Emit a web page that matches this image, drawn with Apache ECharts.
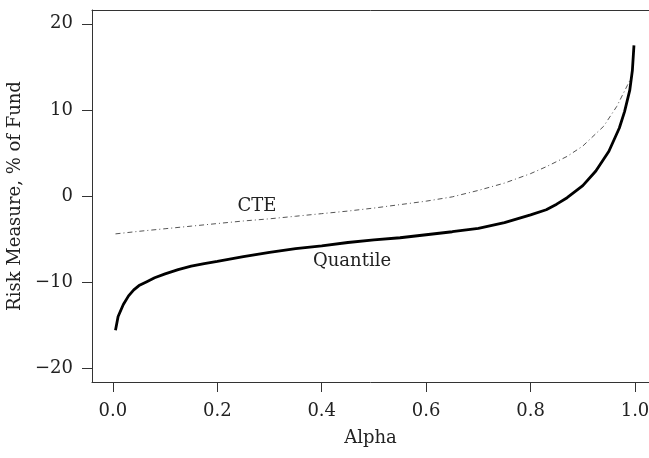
<!DOCTYPE html>
<html>
<head>
<meta charset="utf-8">
<script src="https://cdn.jsdelivr.net/npm/echarts@6/dist/echarts.min.js"></script>
<style>html,body{margin:0;padding:0;background:#fff}#c{width:649px;height:458px}</style>
</head>
<body>
<div id="c"></div>
<script>
var xTicks = [0, 0.2, 0.4, 0.6, 0.8, 1.0];
var yTicks = [-20, -10, 0, 10, 20];

var quantileAlpha = [0.005, 0.01, 0.02, 0.03, 0.04, 0.05, 0.065, 0.08, 0.1, 0.125, 0.15, 0.175, 0.2, 0.25, 0.3, 0.35, 0.4, 0.45, 0.5, 0.55, 0.6, 0.65, 0.7, 0.75, 0.8, 0.83, 0.85, 0.87, 0.9, 0.925, 0.95, 0.97, 0.98, 0.99, 0.995, 0.998];
var quantileValue = [-15.6, -14.0, -12.6, -11.6, -10.9, -10.4, -9.95, -9.5, -9.05, -8.55, -8.15, -7.85, -7.6, -7.05, -6.55, -6.1, -5.8, -5.4, -5.1, -4.85, -4.5, -4.15, -3.75, -3.1, -2.2, -1.6, -0.95, -0.2, 1.2, 2.9, 5.2, 7.9, 9.8, 12.3, 14.6, 17.5];

var cteAlpha = [0.005, 0.05, 0.1, 0.15, 0.2, 0.25, 0.3, 0.35, 0.4, 0.45, 0.5, 0.55, 0.6, 0.65, 0.7, 0.75, 0.8, 0.83, 0.87, 0.9, 0.94, 0.965, 0.985, 0.995];
var cteValue = [-4.4, -4.1, -3.8, -3.5, -3.2, -2.9, -2.65, -2.35, -2.05, -1.75, -1.4, -1.0, -0.6, -0.1, 0.65, 1.5, 2.6, 3.4, 4.6, 5.8, 8.1, 10.4, 12.8, 14.0];

var cteLabel = {text: 'CTE', alpha: 0.276, value: -1.24};
var quantileLabel = {text: 'Quantile', alpha: 0.458, value: -7.64};

function zip(a, b) { return a.map(function (x, i) { return [x, b[i]]; }); }

var FONT = 'DejaVu Serif';
var chart = echarts.init(document.getElementById('c'), null, {renderer: 'canvas'});
chart.setOption({
  animation: false,
  backgroundColor: '#fff',
  grid: {left: 92, top: 10, right: 0, bottom: 76, show: false, containLabel: false, outerBoundsMode: 'none'},
  xAxis: [{
    type: 'value', min: -0.04, max: 1.0268, position: 'bottom',
    name: 'Alpha', nameLocation: 'middle', nameGap: 47,
    nameTextStyle: {fontFamily: FONT, fontSize: 18, color: '#222'},
    axisLine: {show: true, onZero: false, lineStyle: {color: '#333', width: 1}},
    splitLine: {show: false},
    axisTick: {show: true, inside: false, length: 10, lineStyle: {color: '#333'}, customValues: xTicks},
    axisLabel: {fontFamily: FONT, fontSize: 18, color: '#222', margin: 20, customValues: xTicks,
      formatter: function (v) { return v.toFixed(1); }}
  }, {
    type: 'value', min: -0.04, max: 1.0268, position: 'top',
    axisLine: {show: true, onZero: false, lineStyle: {color: '#333', width: 1}},
    splitLine: {show: false}, axisTick: {show: false}, axisLabel: {show: false}
  }],
  yAxis: {
    type: 'value', min: -21.6, max: 21.6,
    name: 'Risk Measure, % of Fund', nameLocation: 'middle', nameGap: 61, nameRotate: 90,
    nameTextStyle: {fontFamily: FONT, fontSize: 18, color: '#222'},
    axisLine: {show: true, onZero: false, lineStyle: {color: '#333', width: 1}},
    splitLine: {show: false},
    axisTick: {show: true, inside: false, length: 10, lineStyle: {color: '#333'}, customValues: yTicks},
    axisLabel: {fontFamily: FONT, fontSize: 18, color: '#222', margin: 19, customValues: yTicks,
      formatter: function (v) { return v < 0 ? '\u2212' + Math.abs(v) : String(v); }}
  },
  series: [
    {
      type: 'line', name: 'CTE', xAxisIndex: 0, data: zip(cteAlpha, cteValue), symbol: 'none', smooth: false,
      lineStyle: {color: '#555', width: 1, type: [5, 3, 1, 3]},
      markPoint: {symbol: 'circle', symbolSize: 0, data: [{coord: [cteLabel.alpha, cteLabel.value]}],
        label: {show: true, position: 'inside', formatter: cteLabel.text, fontFamily: FONT, fontSize: 18, color: '#222'}}
    },
    {
      type: 'line', name: 'Quantile', xAxisIndex: 0, data: zip(quantileAlpha, quantileValue), symbol: 'none', smooth: false,
      lineStyle: {color: '#000', width: 2.8},
      markPoint: {symbol: 'circle', symbolSize: 0, data: [{coord: [quantileLabel.alpha, quantileLabel.value]}],
        label: {show: true, position: 'inside', formatter: quantileLabel.text, fontFamily: FONT, fontSize: 18, color: '#222'}}
    }
  ]
});
</script>
</body>
</html>
